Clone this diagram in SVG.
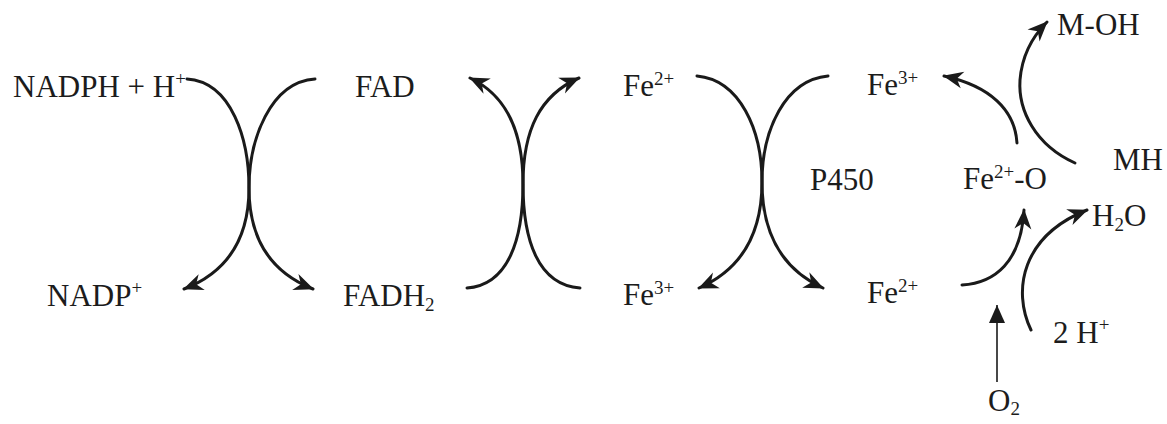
<svg xmlns="http://www.w3.org/2000/svg" width="1167" height="424" viewBox="0 0 1167 424">
<style>
  text { font-family: "Liberation Serif", "Times New Roman", serif; font-size: 31px; fill: #1c1c1c; }
  .sup { font-size: 19px; }
  .c { fill: none; stroke: #1a1a1a; stroke-width: 3; stroke-linecap: round; }
  .ca { fill: none; stroke: #1a1a1a; stroke-width: 3; stroke-linecap: round; marker-end: url(#ah); }
  .thin { fill: none; stroke: #1a1a1a; stroke-width: 1.6; marker-end: url(#tri); }
</style>
<defs>
  <marker id="ah" markerUnits="userSpaceOnUse" viewBox="-21 -10 23 20" refX="0" refY="0" markerWidth="23" markerHeight="20" orient="auto">
    <path d="M1,0 L-19,-8.5 L-13,0 L-19,8.5 Z" fill="#1a1a1a"/>
  </marker>
  <marker id="tri" markerUnits="userSpaceOnUse" viewBox="-20 -10 22 20" refX="0" refY="0" markerWidth="22" markerHeight="20" orient="auto">
    <path d="M0,0 L-18,-8 L-18,8 Z" fill="#1a1a1a"/>
  </marker>
</defs>
<rect width="1167" height="424" fill="#ffffff"/>

<g id="connectors">
  <!-- left pair -->
  <path class="ca" d="M187,79 C232,82 249,140 249,188 C249,238 228,272 184,289"/>
  <path class="ca" d="M315,79 C270,82 249,140 249,188 C249,238 270,272 313,289"/>
  <!-- middle pair -->
  <path class="ca" d="M467,288 C508,285 523,240 523,184 C523,130 506,95 470,78"/>
  <path class="ca" d="M580,288 C538,285 523,240 523,184 C523,130 540,95 579,78"/>
  <!-- right pair -->
  <path class="ca" d="M697,76 C740,80 762,130 762,182 C762,235 740,270 699,288"/>
  <path class="ca" d="M828,76 C785,80 762,130 762,182 C762,235 784,270 823,288"/>
  <!-- Fe2+-O to Fe3+ -->
  <path class="ca" d="M1017,143 C1015,110 990,86 944,76"/>
  <!-- MH to M-OH -->
  <path class="ca" d="M1075,163 C1035,145 1018,110 1020,80 C1022,55 1032,37 1047,22"/>
  <!-- Fe2+ to Fe2+-O -->
  <path class="ca" d="M962,285 C995,283 1021,262 1024,210"/>
  <!-- 2H+ to H2O -->
  <path class="ca" d="M1031,330 C1012,290 1022,236 1087,210"/>
  <!-- O2 -->
  <path class="thin" d="M997,382 L997,305"/>
</g>

<g id="n-nadph"><text x="13" y="97">NADPH + H<tspan class="sup" dy="-12">+</tspan></text></g>
<g id="n-fad"><text x="355" y="97">FAD</text></g>
<g id="n-nadp"><text x="47" y="306">NADP<tspan class="sup" dy="-12">+</tspan></text></g>
<g id="n-fadh2"><text x="343" y="306">FADH<tspan class="sup" dy="5">2</tspan></text></g>
<g id="n-fe2-top"><text x="623" y="96">Fe<tspan class="sup" dy="-11">2+</tspan></text></g>
<g id="n-fe3-bottom"><text x="623" y="305">Fe<tspan class="sup" dy="-11">3+</tspan></text></g>
<g id="n-fe3-top"><text x="867" y="95">Fe<tspan class="sup" dy="-11">3+</tspan></text></g>
<g id="n-fe2-bottom"><text x="867" y="303">Fe<tspan class="sup" dy="-11">2+</tspan></text></g>
<g id="n-p450"><text x="810" y="190">P450</text></g>
<g id="n-feo"><text x="963" y="189">Fe<tspan class="sup" dy="-11">2+</tspan><tspan dy="11">-O</tspan></text></g>
<g id="n-mh"><text x="1113" y="170">MH</text></g>
<g id="n-moh"><text x="1057" y="35">M-OH</text></g>
<g id="n-h2o"><text x="1092" y="226">H<tspan class="sup" dy="5">2</tspan><tspan dy="-5">O</tspan></text></g>
<g id="n-2h"><text x="1053" y="343">2 H<tspan class="sup" dy="-12">+</tspan></text></g>
<g id="n-o2"><text x="988" y="411">O<tspan class="sup" dy="4">2</tspan></text></g>
</svg>
